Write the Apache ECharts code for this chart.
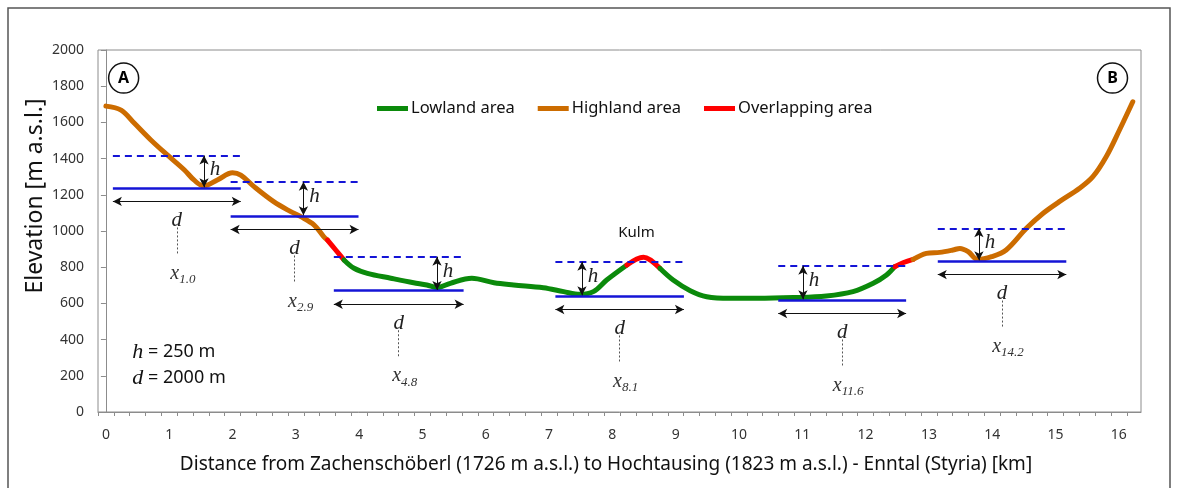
<!DOCTYPE html>
<html><head><meta charset="utf-8">
<script src="https://cdn.jsdelivr.net/npm/echarts@6/dist/echarts.min.js"></script>
<style>html,body{margin:0;padding:0;background:#fff}#c{width:1178px;height:488px}</style>
</head><body><div id="c"></div>
<script>
// ---- profile data (km, m a.s.l.) ----
const distKm = [0.00,0.24,0.45,0.71,0.97,1.24,1.39,1.54,1.76,2.00,2.13,2.34,2.65,2.92,3.08,3.29,3.44,3.50,3.63,3.76,3.92,4.13,4.50,4.86,5.07,5.23,5.44,5.78,6.13,6.44,6.91,7.23,7.49,7.70,7.91,8.23,8.49,8.75,8.96,9.23,9.49,9.86,10.28,10.86,11.38,11.80,12.12,12.33,12.46,12.60,12.75,12.96,13.17,13.38,13.49,13.62,13.77,13.99,14.22,14.54,14.80,15.06,15.38,15.59,15.80,16.01,16.22];
const elevM  = [1690,1668,1595,1503,1420,1337,1282,1249,1282,1322,1309,1245,1162,1107,1079,1033,969,950,895,840,794,766,739,714,702,687,711,739,714,702,687,665,650,665,729,812,855,794,729,670,637,628,628,632,641,665,711,757,803,826,843,876,882,895,904,886,843,858,895,1015,1097,1162,1236,1300,1410,1558,1714];
// segment boundaries (km) and class of each segment
const segBreaks = [3.50, 3.76, 8.23, 8.75, 12.46, 12.75];
const segClass  = ['Highland area','Overlapping area','Lowland area','Overlapping area','Lowland area','Overlapping area','Highland area'];
const legendNames = ['Lowland area','Highland area','Overlapping area'];
// moving windows
const winStart = [0.11, 1.97, 3.60, 7.10, 10.62, 13.14];
const winEnd   = [2.13, 3.99, 5.65, 9.13, 12.64, 15.17];
const winBase  = [1238, 1083, 670, 641, 619, 834];
const winTop   = [1417, 1272, 858, 830, 808, 1015];
const winMinKm = [1.55, 3.12, 5.23, 7.52, 11.01, 13.79];
const winLabel = ['1.0','2.9','4.8','8.1','11.6','14.2'];
// axis ticks
const xLabelVals = [0,1,2,3,4,5,6,7,8,9,10,11,12,13,14,15,16];
const xMinorTicks = [];
for (let k = 0; k <= 65; k++) xMinorTicks.push(-0.125 + 0.25 * k);

const colors = {'Lowland area':'#0b8a0b','Highland area':'#cc6c00','Overlapping area':'#ff0000'};
const SANS = 'Noto Sans', SERIF = 'Liberation Serif';
const PX = 2000 / 362; // elevation units per pixel

// build segments
const series = [];
let startIdx = 0;
for (let s = 0; s < segClass.length; s++) {
  let endIdx = s < segBreaks.length ? distKm.indexOf(segBreaks[s]) : distKm.length - 1;
  const pts = [];
  for (let i = startIdx; i <= endIdx; i++) pts.push([distKm[i], elevM[i]]);
  const c = colors[segClass[s]];
  series.push({type:'line', name:segClass[s], data:pts, smooth:0.35, showSymbol:false, symbol:'none',
    lineStyle:{width:5, color:c, cap:'round'}, itemStyle:{color:c}, color:c, z:3, silent:true});
  startIdx = endIdx;
}

function ml(data, lineStyle, symbol, symbolSize) {
  return {type:'line', data:[], silent:true, z:4,
    markLine:{silent:true, animation:false, symbol:symbol, symbolSize:symbolSize||[7,9],
      label:{show:false}, emphasis:{disabled:true}, lineStyle:lineStyle, data:data}};
}
const baseL = [], topL = [], dArr = [], hArr = [], lead = [];
const pts = [];
for (let i = 0; i < winStart.length; i++) {
  const c = (winStart[i] + winEnd[i]) / 2;
  const arrowY = winBase[i] - 13.5 * PX;
  baseL.push([{coord:[winStart[i], winBase[i]]},{coord:[winEnd[i], winBase[i]]}]);
  topL.push([{coord:[winStart[i], winTop[i]]},{coord:[winEnd[i], winTop[i]]}]);
  dArr.push([{coord:[winStart[i], arrowY]},{coord:[winEnd[i], arrowY]}]);
  hArr.push([{coord:[winMinKm[i], winTop[i]]},{coord:[winMinKm[i], winBase[i]+4]}]);
  lead.push([{coord:[c, arrowY - 26*PX]},{coord:[c, arrowY - 53*PX]}]);
  pts.push({coord:[c, arrowY], label:{formatter:'d', offset:[0,19], fontFamily:SERIF, fontStyle:'italic', fontSize:21, color:'#222'}});
  pts.push({coord:[c, arrowY], label:{formatter:'{x|x}{s|' + winLabel[i] + '}', offset:[6,72],
    rich:{x:{fontFamily:SERIF, fontStyle:'italic', fontSize:20, color:'#333', lineHeight:20},
          s:{fontFamily:SERIF, fontStyle:'italic', fontSize:13, color:'#333', lineHeight:14, padding:[12,0,0,0]}}}});
  pts.push({coord:[winMinKm[i], (winTop[i] + winBase[i]) / 2], label:{formatter:'h', offset:[11,-2], fontFamily:SERIF, fontStyle:'italic', fontSize:21, color:'#222'}});
}
pts.push({coord:[8.38, 989], label:{formatter:'Kulm', fontFamily:SANS, fontSize:15, color:'#111'}});
pts.push({coord:[0.41, 331], label:{formatter:'{i|h} = 250 m', position:'right', distance:0, fontFamily:SANS, fontSize:18, color:'#111',
  rich:{i:{fontFamily:SERIF, fontStyle:'italic', fontSize:22, color:'#111'}}}});
pts.push({coord:[0.41, 188], label:{formatter:'{i|d} = 2000 m', position:'right', distance:0, fontFamily:SANS, fontSize:18, color:'#111',
  rich:{i:{fontFamily:SERIF, fontStyle:'italic', fontSize:22, color:'#111'}}}});

const circles = [
  {coord:[0.28, 1845], label:{formatter:'A'}},
  {coord:[15.9, 1845], label:{formatter:'B'}}
];

series.push(ml(baseL, {color:'#1414d6', width:2.5, type:'solid'}, ['none','none']));
series.push(ml(topL, {color:'#1414d6', width:1.8, type:[7,5]}, ['none','none']));
series.push(ml(dArr, {color:'#111', width:1, type:'solid'}, ['arrow','arrow'], [7,9]));
series.push(ml(hArr, {color:'#111', width:1, type:'solid'}, ['arrow','arrow'], [7,9]));
series.push(ml(lead, {color:'#555', width:1, type:[2,2]}, ['none','none']));
series.push({type:'line', data:[], silent:true, z:5,
  markPoint:{silent:true, animation:false, symbol:'circle', symbolSize:1, itemStyle:{color:'rgba(0,0,0,0)'},
    label:{show:true, position:'inside'}, data:pts}});
series.push({type:'line', data:[], silent:true, z:5,
  markPoint:{silent:true, animation:false, symbol:'circle', symbolSize:30,
    itemStyle:{color:'#fff', borderColor:'#111', borderWidth:1.5},
    label:{show:true, position:'inside', fontFamily:SANS, fontWeight:'bold', fontSize:16, color:'#000'}, data:circles}});

const option = {
  animation:false,
  grid:{left:98, right:37, top:50, bottom:76, show:true, borderColor:'#8c8c8c', borderWidth:1},
  legend:{data:legendNames, left:372, top:95, icon:'rect', itemWidth:31, itemHeight:5, itemGap:23,
    textStyle:{fontFamily:SANS, fontSize:16.5, color:'#111', padding:[0,0,0,-2]}},
  xAxis:{type:'value', min:-0.125, max:16.35,
    name:'Distance from Zachenschöberl (1726 m a.s.l.) to Hochtausing (1823 m a.s.l.) - Enntal (Styria) [km]',
    nameLocation:'middle', nameGap:43, nameMoveOverlap:false,
    nameTextStyle:{fontFamily:SANS, fontSize:19, color:'#111', padding:[0,27,0,0]},
    axisLine:{lineStyle:{color:'#8c8c8c'}}, splitLine:{show:false},
    axisTick:{show:true, customValues:xMinorTicks, length:4, lineStyle:{color:'#8c8c8c'}},
    axisLabel:{customValues:xLabelVals, margin:16, fontFamily:SANS, fontSize:14, color:'#333'}},
  yAxis:{type:'value', min:0, max:2000, interval:200,
    name:'Elevation [m a.s.l.]', nameLocation:'middle', nameGap:51, nameMoveOverlap:false,
    nameTextStyle:{fontFamily:SANS, fontSize:23, color:'#111', padding:[0,0,0,70]},
    axisLine:{show:true, lineStyle:{color:'#8c8c8c'}}, splitLine:{show:false},
    axisTick:{show:true, length:5, lineStyle:{color:'#8c8c8c'}},
    axisLabel:{margin:14, fontFamily:SANS, fontSize:14, color:'#333', formatter:function(v){return String(v);}}},
  graphic:[{type:'polyline', shape:{points:[[8,488],[8,8],[1170,8],[1170,488]]}, style:{stroke:'#555', lineWidth:1.5, fill:null}, silent:true}],
  series:series
};
const chart = echarts.init(document.getElementById('c'), null, {renderer:'canvas'});
chart.setOption(option);
</script></body></html>
